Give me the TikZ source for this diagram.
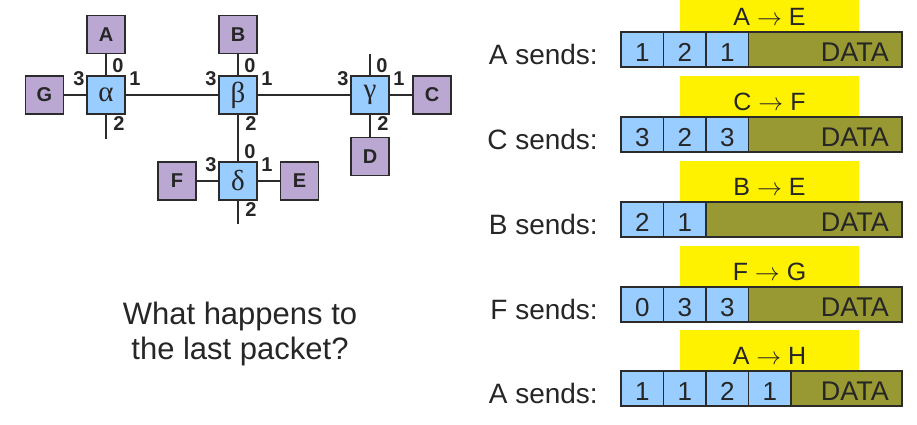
\documentclass[tikz,border=0pt]{standalone}
\usepackage{fontspec}
\setmainfont{Liberation Sans}
\newfontfamily\grk{Liberation Serif}
\usepackage{tikz}

\definecolor{hostc}{HTML}{BBA8D2}
\definecolor{routc}{HTML}{99CCFF}
\definecolor{datac}{HTML}{999933}
\definecolor{linec}{HTML}{2B2B2B}

\tikzset{
  host/.style={draw=linec,line width=1.2pt,fill=hostc,minimum size=38pt,inner sep=0pt,
    font=\fontsize{20}{20}\selectfont\bfseries},
  router/.style={host,fill=routc,font=\fontsize{29}{29}\grk},
  port/.style={inner sep=0pt,font=\fontsize{20}{20}\selectfont\bfseries},
  link/.style={draw=linec,line width=2.6pt},
  cell/.style={draw=linec,line width=1.6pt,fill=routc,minimum width=42.5pt,minimum height=35pt,
    inner sep=0pt,font=\fontsize{26}{26}\selectfont},
}

\begin{document}
\begin{tikzpicture}[x=1pt,y=-1pt,text=black!85]
		\useasboundingbox (0,0) rectangle (917,424);
		\clip (0,0) rectangle (917,424);
		\node[router] (al) at (106,95) {α};
		\node[router] (be) at (238,95) {β};
		\node[router] (ga) at (370,95) {γ};
		\node[router] (de) at (238,181) {δ};
		\node[host] (A) at (106,34.5) {A};
		\node[host] (B) at (238,34.5) {B};
		\node[host] (C) at (432,95) {C};
		\node[host] (D) at (370,156.5) {D};
		\node[host] (E) at (299.5,181) {E};
		\node[host] (F) at (177,181) {F};
		\node[host] (G) at (44.5,95) {G};
		\coordinate (alS) at (106,139);
		\coordinate (gaN) at (370,54);
		\coordinate (deS) at (238,224);
		\draw[link] (G) -- (al);
		\draw[link] (al) -- (be);
		\draw[link] (be) -- (ga);
		\draw[link] (ga) -- (C);
		\draw[link] (A) -- (al);
		\draw[link] (B) -- (be);
		\draw[link] (be) -- (de);
		\draw[link] (ga) -- (D);
		\draw[link] (F) -- (de);
		\draw[link] (de) -- (E);
		\draw[link] (al) -- (alS);
		\draw[link] (ga) -- (gaN);
		\draw[link] (de) -- (deS);
		\foreach \r in {al,be,ga,de} {
			\path (\r) ++(12,-29) node[port] (\r-0) {0};
			\path (\r) ++(29,-16) node[port] (\r-1) {1};
			\path (\r) ++(13,29) node[port] (\r-2) {2};
			\path (\r) ++(-27,-16) node[port] (\r-3) {3};
		}
		\node[align=center,font=\fontsize{31}{35}\selectfont] (q) at (240,334) {What happens to\\the last packet?};
		\foreach \y/\who/\dst/\hops [count=\n] in {32/A/E/{1,2,1},117/C/F/{3,2,3},202/B/E/{2,1},287/F/G/{0,3,3},371/A/H/{1,1,2,1}} {
			\fill[yellow] (680,\y-41) rectangle (859,\y);
			\node[anchor=base,inner sep=0pt,font=\fontsize{25}{25}\selectfont] (hd\n) at (769.5,\y-7) {\who\ $\rightarrow$ \dst};
			\draw[draw=linec,line width=1.6pt,fill=datac] (621,\y) rectangle (902,\y+35);
			\node[anchor=base east,inner sep=0pt,font=\fontsize{27}{27}\selectfont] (data\n) at (889,\y+29) {DATA};
			\node[anchor=base east,inner sep=0pt,font=\fontsize{28}{28}\selectfont] (snd\n) at (598,\y+32) {\who\ sends:};
			\foreach \h [count=\i] in \hops {
				\node[cell] (c\n-\i) at ({621+42.5*(\i-0.5)},\y+17.5) {};
				\node[anchor=base,inner sep=0pt,font=\fontsize{26}{26}\selectfont] (d\n-\i) at ({621+42.5*(\i-0.5)},\y+29) {\h};
			}
		}
	\end{tikzpicture}
\end{document}
